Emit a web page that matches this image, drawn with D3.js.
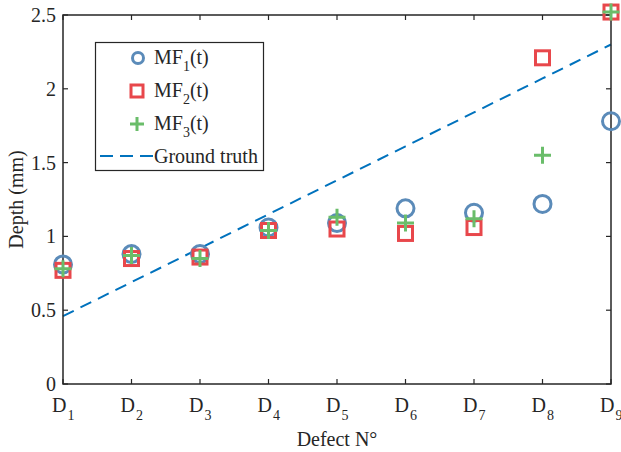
<!DOCTYPE html>
<html>
<head>
<meta charset="utf-8">
<script src="https://cdn.jsdelivr.net/npm/d3@7"></script>
<style>
  body { margin: 0; background: #fff; }
  svg text { font-family: "Liberation Serif", "Times New Roman", serif; fill: #262626; }
</style>
</head>
<body>
<svg id="chart" width="621" height="452"></svg>
<script>
const defects = ['1', '2', '3', '4', '5', '6', '7', '8', '9'];
const mf1 = [0.81, 0.88, 0.88, 1.06, 1.09, 1.19, 1.16, 1.22, 1.78];
const mf2 = [0.77, 0.85, 0.86, 1.04, 1.05, 1.02, 1.06, 2.21, 2.52];
const mf3 = [0.78, 0.87, 0.85, 1.04, 1.13, 1.09, 1.12, 1.55, 2.52];
const groundTruth = [0.46, 0.69, 0.92, 1.15, 1.38, 1.61, 1.84, 2.07, 2.30];
const yTicks = [0, 0.5, 1, 1.5, 2, 2.5];

const margin = {left: 63, right: 10, top: 15, bottom: 68};
const width = 621, height = 452;
const axisColor = '#262626';
const fontSize = 20;
const subSize = 14;
const dash = '12,7.5';

const svg = d3.select('#chart');

const x = d3.scalePoint()
    .domain(defects)
    .range([margin.left, width - margin.right]);
const y = d3.scaleLinear()
    .domain([0, 2.5])
    .range([height - margin.bottom, margin.top]);

// ground truth dashed line
const line = d3.line()
    .x((d, i) => x(defects[i]))
    .y((d) => y(d));
svg.append('path')
    .datum(groundTruth)
    .attr('d', line)
    .attr('fill', 'none')
    .attr('stroke', '#0072BD')
    .attr('stroke-width', 2)
    .attr('stroke-dasharray', dash);

// markers
const circleColor = '#5b8bb9';
const squareColor = '#e8474b';
const plusColor = '#6abd6a';

function drawCircle(g, cx, cy, r) {
  g.append('circle')
      .attr('cx', cx).attr('cy', cy).attr('r', r)
      .attr('fill', 'none')
      .attr('stroke', circleColor)
      .attr('stroke-width', 3);
}
function drawSquare(g, cx, cy, s) {
  g.append('rect')
      .attr('x', cx - s / 2).attr('y', cy - s / 2)
      .attr('width', s).attr('height', s)
      .attr('fill', 'none')
      .attr('stroke', squareColor)
      .attr('stroke-width', 3);
}
function drawPlus(g, cx, cy, s) {
  g.append('path')
      .attr('d', `M${cx - s / 2},${cy}H${cx + s / 2}M${cx},${cy - s / 2}V${cy + s / 2}`)
      .attr('stroke', plusColor)
      .attr('stroke-width', 3)
      .attr('fill', 'none');
}

// axes frame
const x0 = margin.left, x1 = width - margin.right;
const y0 = height - margin.bottom, y1 = margin.top;
svg.append('rect')
    .attr('x', x0).attr('y', y1)
    .attr('width', x1 - x0).attr('height', y0 - y1)
    .attr('fill', 'none')
    .attr('stroke', axisColor)
    .attr('stroke-width', 1.5);

const tickLen = 5;
const ticks = svg.append('g').attr('stroke', axisColor).attr('stroke-width', 1.2);
defects.forEach((d) => {
  ticks.append('line').attr('x1', x(d)).attr('x2', x(d)).attr('y1', y0).attr('y2', y0 - tickLen);
  ticks.append('line').attr('x1', x(d)).attr('x2', x(d)).attr('y1', y1).attr('y2', y1 + tickLen);
});
yTicks.forEach((t) => {
  ticks.append('line').attr('x1', x0).attr('x2', x0 + tickLen).attr('y1', y(t)).attr('y2', y(t));
  ticks.append('line').attr('x1', x1).attr('x2', x1 - tickLen).attr('y1', y(t)).attr('y2', y(t));
});

const marks = svg.append('g');
mf1.forEach((v, i) => drawCircle(marks, x(defects[i]), y(v), 8.5));
mf2.forEach((v, i) => drawSquare(marks, x(defects[i]), y(v), 14));
mf3.forEach((v, i) => drawPlus(marks, x(defects[i]), y(v), 17));

// tick labels
yTicks.forEach((t) => {
  svg.append('text')
      .attr('x', x0 - 7)
      .attr('y', y(t) + 7)
      .attr('text-anchor', 'end')
      .attr('font-size', fontSize)
      .text(t);
});
defects.forEach((d) => {
  const t = svg.append('text')
      .attr('x', x(d) - 11)
      .attr('y', 412)
      .attr('font-size', fontSize);
  t.append('tspan').text('D');
  t.append('tspan').attr('dx', 1).attr('dy', 8).attr('font-size', subSize).text(d);
});

// axis titles
svg.append('text')
    .attr('x', (x0 + x1) / 2)
    .attr('y', 446)
    .attr('text-anchor', 'middle')
    .attr('font-size', fontSize)
    .text('Defect N°');
svg.append('text')
    .attr('transform', `translate(23,${(y0 + y1) / 2}) rotate(-90)`)
    .attr('text-anchor', 'middle')
    .attr('font-size', fontSize)
    .text('Depth (mm)');

// legend
const legend = svg.append('g');
legend.append('rect')
    .attr('x', 95.5).attr('y', 42.5)
    .attr('width', 168).attr('height', 128)
    .attr('fill', '#fff')
    .attr('stroke', axisColor)
    .attr('stroke-width', 1.2);

const legendRows = [58, 91, 124, 156];
drawCircle(legend, 138, legendRows[0], 5.5);
drawSquare(legend, 137, legendRows[1], 12);
drawPlus(legend, 137, legendRows[2], 14);
legend.append('line')
    .attr('x1', 100).attr('x2', 153)
    .attr('y1', legendRows[3]).attr('y2', legendRows[3])
    .attr('stroke', '#0072BD')
    .attr('stroke-width', 2)
    .attr('stroke-dasharray', '13,7');

['1', '2', '3'].forEach((s, i) => {
  const t = legend.append('text')
      .attr('x', 154)
      .attr('y', legendRows[i] + 6)
      .attr('font-size', fontSize);
  t.append('tspan').text('MF');
  t.append('tspan').attr('dy', 7).attr('font-size', subSize).text(s);
  t.append('tspan').attr('dy', -7).text('(t)');
});
legend.append('text')
    .attr('x', 154)
    .attr('y', legendRows[3] + 7)
    .attr('font-size', fontSize)
    .text('Ground truth');
</script>
</body>
</html>
